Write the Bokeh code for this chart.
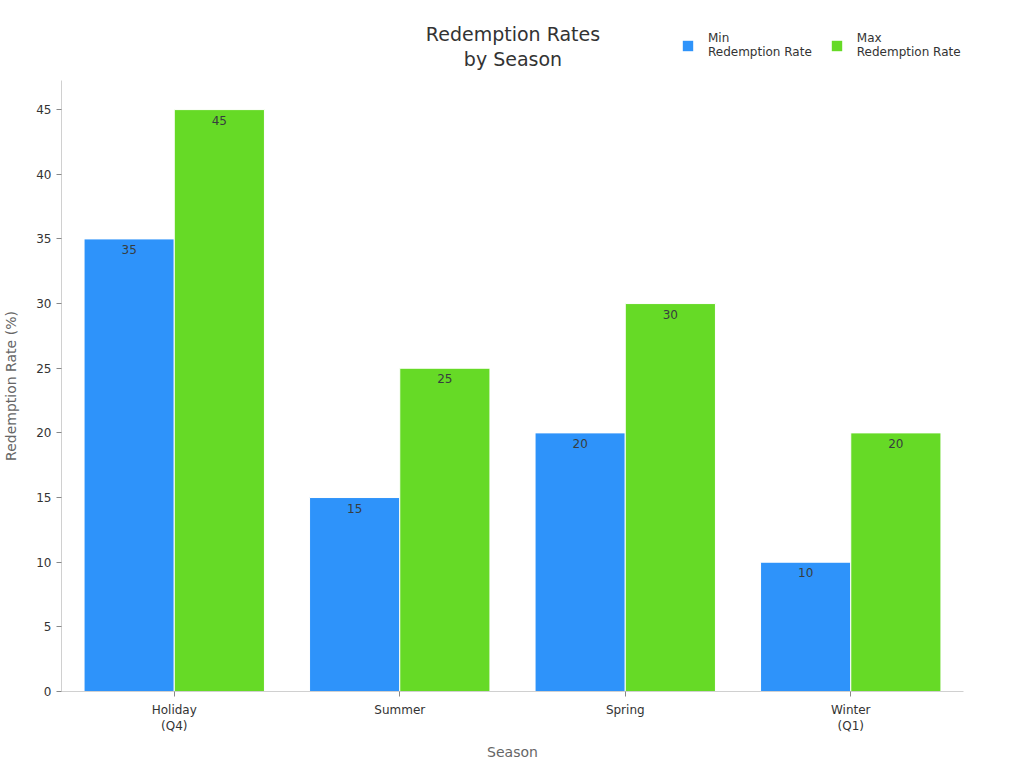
from bokeh.plotting import figure
from bokeh.layouts import column
from bokeh.models import ColumnDataSource, FactorRange, LabelSet, Label, Legend, LegendItem
from bokeh.core.properties import value
from bokeh.transform import dodge
from bokeh.embed import file_html
from bokeh.resources import INLINE

seasons = ["Holiday\n(Q4)", "Summer", "Spring", "Winter\n(Q1)"]
min_rate = [35, 15, 20, 10]
max_rate = [45, 25, 30, 20]

series_names = ["Min\nRedemption Rate", "Max\nRedemption Rate"]
colors = ["#2E93FA", "#66DA26"]
title_lines = ["Redemption Rates", "by Season"]

FONT = "DejaVu Sans"
HEAD_H = 80
LEFT, RIGHT = 60, 61

source = ColumnDataSource(data=dict(
    season=seasons,
    min_rate=min_rate,
    max_rate=max_rate,
    min_txt=[str(v) for v in min_rate],
    max_txt=[str(v) for v in max_rate],
))

# ---- header strip: title and legend ------------------------------------
# its frame lines up with the chart frame below, so x runs in canvas pixels
head = figure(
    width=1024, height=HEAD_H, x_range=(LEFT, 1024 - RIGHT), y_range=(0, HEAD_H),
    output_backend="svg", toolbar_location=None,
    min_border_left=LEFT, min_border_right=RIGHT, min_border_top=0, min_border_bottom=0,
    x_axis_type=None, y_axis_type=None,
)
head.outline_line_color = None
head.grid.grid_line_color = None

for i, line in enumerate(title_lines):
    head.add_layout(Label(
        x=512, y=HEAD_H - 33 - 25 * i, text=line,
        text_align="center", text_baseline="middle",
        text_font=FONT, text_font_size="19px", text_color="#333333",
    ))

# swatch renderers for the legend, kept outside the visible strip
sw_min = head.vbar(x=[-100], top=[0], width=1, fill_color=colors[0], line_color=None)
sw_max = head.vbar(x=[-100], top=[0], width=1, fill_color=colors[1], line_color=None)

legend = Legend(
    items=[LegendItem(label=series_names[0], renderers=[sw_min]),
           LegendItem(label=series_names[1], renderers=[sw_max])],
    orientation="horizontal",
    location=(620, 21),
    glyph_width=13, glyph_height=13,
    label_standoff=14, spacing=18,
    label_text_font=FONT, label_text_font_size="12px", label_text_color="#333333",
    background_fill_alpha=0, border_line_color=None,
    padding=0, margin=0,
)
head.add_layout(legend, "center")

# ---- main chart --------------------------------------------------------
p = figure(
    width=1024, height=768 - HEAD_H,
    x_range=FactorRange(*seasons, range_padding=0),
    y_range=(0, 47.25),
    output_backend="svg", toolbar_location=None,
    min_border_left=LEFT, min_border_right=RIGHT,
    min_border_top=0, min_border_bottom=77,
)
p.outline_line_color = None
p.xgrid.grid_line_color = None
p.ygrid.grid_line_color = None

p.vbar(x=dodge("season", -0.2, range=p.x_range), top="min_rate", width=0.4,
       source=source, fill_color=colors[0], line_color="white", line_width=1)
p.vbar(x=dodge("season", 0.2, range=p.x_range), top="max_rate", width=0.4,
       source=source, fill_color=colors[1], line_color="white", line_width=1)

for col, txt, off in (("min_rate", "min_txt", -0.2), ("max_rate", "max_txt", 0.2)):
    p.add_layout(LabelSet(
        x=dodge("season", off, range=p.x_range), y=col, text=txt, source=source,
        text_align="center", text_baseline="top", y_offset=-6,
        text_font=value(FONT), text_font_size="12px", text_color="#373d3f",
    ))

for ax in (p.xaxis, p.yaxis):
    ax.axis_line_color = "#d0d0d0"
    ax.major_tick_line_color = "#888888"
    ax.minor_tick_line_color = None
    ax.major_label_text_font = FONT
    ax.major_label_text_font_size = "12px"
    ax.major_label_text_color = "#333333"
    ax.axis_label_text_font = FONT
    ax.axis_label_text_font_size = "14px"
    ax.axis_label_text_font_style = "normal"
    ax.axis_label_text_color = "#666666"

p.yaxis.axis_label = "Redemption Rate (%)"
p.yaxis.ticker = list(range(0, 50, 5))
p.yaxis.major_tick_out = 5
p.yaxis.major_tick_in = 0
p.yaxis.axis_label_standoff = 14

p.xaxis.axis_label = "Season"
p.xaxis.major_tick_out = 5
p.xaxis.major_tick_in = 0
p.xaxis.major_label_standoff = 6
p.xaxis.axis_label_standoff = 8

layout = column(head, p, spacing=0)

open("out.html", "w").write(file_html(layout, INLINE))
